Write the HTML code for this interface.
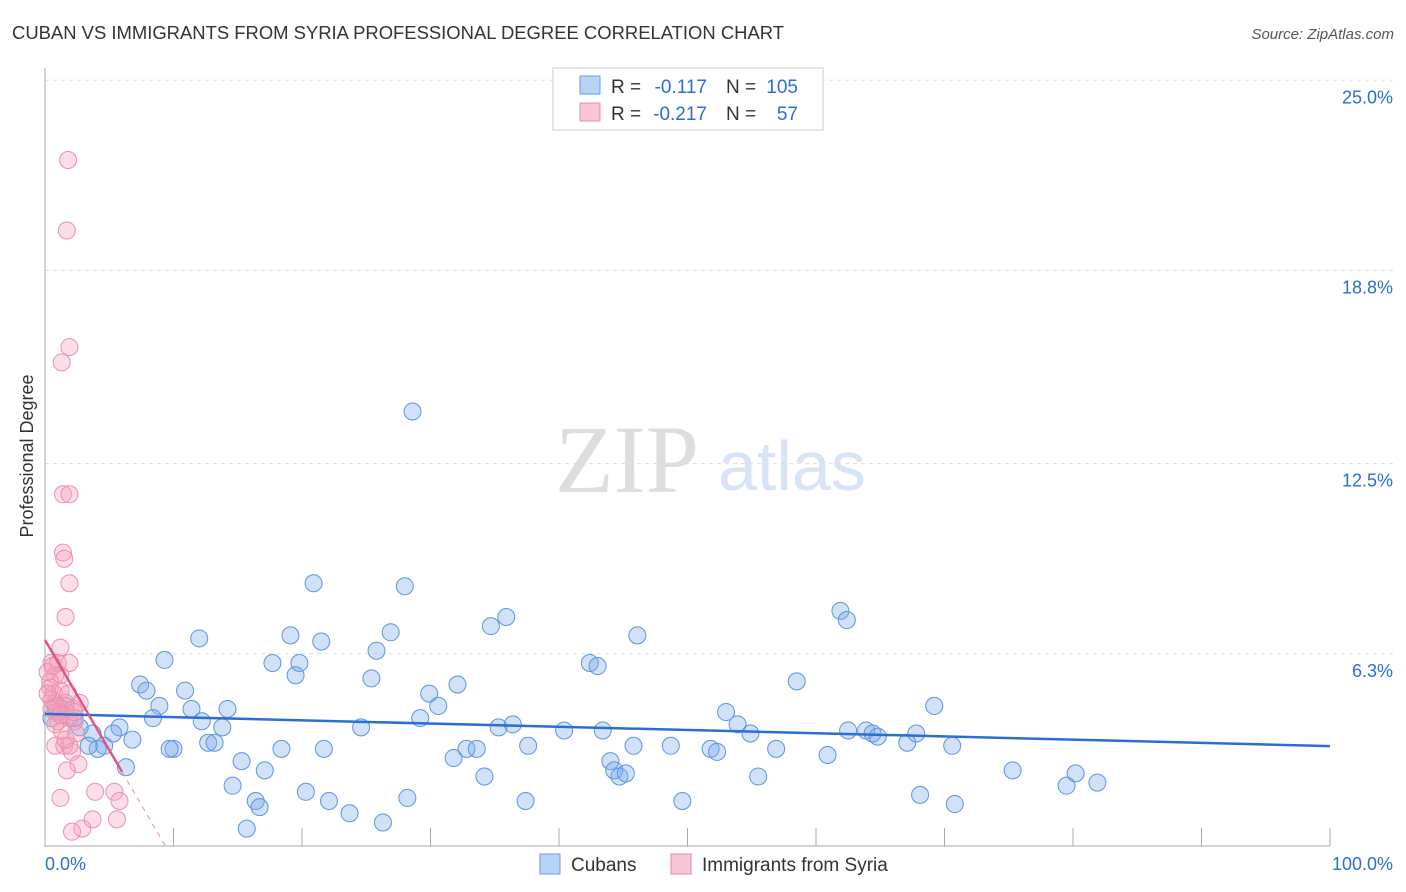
<!DOCTYPE html>
<html><head><meta charset="utf-8"><style>
body{margin:0;background:#fff;font-family:"Liberation Sans",sans-serif}
#wrap{position:relative;width:1406px;height:892px;overflow:hidden}
</style></head><body>
<div id="wrap">
<svg id="svg" width="1406" height="892" xmlns="http://www.w3.org/2000/svg">
<text x="12" y="39" font-size="18" fill="#333" textLength="772" lengthAdjust="spacingAndGlyphs">CUBAN VS IMMIGRANTS FROM SYRIA PROFESSIONAL DEGREE CORRELATION CHART</text>
<text x="1394" y="39" font-size="15" fill="#555" font-style="italic" text-anchor="end">Source: ZipAtlas.com</text>
<text x="33" y="456" font-size="18" fill="#333" text-anchor="middle" transform="rotate(-90 33 456)">Professional Degree</text>
<text x="555" y="492" font-size="96" fill="#ddd" font-family="Liberation Serif,serif">ZIP</text>
<text x="718" y="490" font-size="70" fill="#d6e4f5">atlas</text>
<g id="grid"></g><g id="marks"></g>
<g>
<rect x="553" y="68" width="270" height="62" fill="#fff" stroke="#ccc"/>
<rect x="580" y="76" width="20" height="18" fill="#b8d3f5" stroke="#6a9ee0"/>
<rect x="580" y="103" width="20" height="18" fill="#f9c6d6" stroke="#e58aa8"/>
<text x="611" y="93" font-size="19" fill="#333">R =</text>
<text x="707" y="93" font-size="19" fill="#2a6fd0" text-anchor="end">-0.117</text>
<text x="726" y="93" font-size="19" fill="#333">N =</text>
<text x="798" y="93" font-size="19" fill="#2a6fd0" text-anchor="end">105</text>
<text x="611" y="120" font-size="19" fill="#333">R =</text>
<text x="707" y="120" font-size="19" fill="#2a6fd0" text-anchor="end">-0.217</text>
<text x="726" y="120" font-size="19" fill="#333">N =</text>
<text x="798" y="120" font-size="19" fill="#2a6fd0" text-anchor="end">57</text>
</g>
<g>
<rect x="540" y="854" width="20" height="20" fill="#b8d3f5" stroke="#6a9ee0"/>
<text x="571" y="871" font-size="19" fill="#333">Cubans</text>
<rect x="671" y="854" width="20" height="20" fill="#f9c6d6" stroke="#e58aa8"/>
<text x="702" y="871" font-size="19" fill="#333">Immigrants from Syria</text>
</g>
</svg></div>
<script>
const yTicks=[25.0,18.8,12.5,6.3];
const yTickLabels=["25.0%","18.8%","12.5%","6.3%"];
const xTickLabels=["0.0%","100.0%"];
const cubanX=[28.6,20.9,28.0,12.0,19.1,21.5,26.9,25.8,34.7,35.9,46.1,61.9,62.4,9.3,17.7,19.8,42.4,43.0,7.4,7.9,10.9,19.5,25.4,32.1,29.9,30.6,58.5,8.9,11.4,14.2,8.4,12.2,13.8,29.2,24.6,53.0,69.2,5.8,5.3,3.7,2.7,2.3,6.8,4.6,4.1,10.0,9.7,12.7,13.2,18.4,21.7,32.8,33.6,35.3,36.4,37.6,40.4,43.4,45.8,48.7,51.8,52.3,53.9,54.9,56.9,62.5,63.9,64.4,64.8,67.1,67.8,70.6,60.9,31.8,15.3,17.1,6.3,44.0,44.3,44.7,45.2,34.2,55.5,14.6,20.3,16.4,16.7,22.1,23.7,28.2,37.4,49.6,68.1,70.8,75.3,79.5,80.2,81.9,15.7,26.3,0.5,1.2,1.6,3.4,0.8];
const cubanY=[14.2,8.6,8.5,6.8,6.9,6.7,7.0,6.4,7.2,7.5,6.9,7.7,7.4,6.1,6.0,6.0,6.0,5.9,5.3,5.1,5.1,5.6,5.5,5.3,5.0,4.6,5.4,4.6,4.5,4.5,4.2,4.1,3.9,4.2,3.9,4.4,4.6,3.9,3.7,3.7,3.9,4.2,3.5,3.3,3.2,3.2,3.2,3.4,3.4,3.2,3.2,3.2,3.2,3.9,4.0,3.3,3.8,3.8,3.3,3.3,3.2,3.1,4.0,3.7,3.2,3.8,3.8,3.7,3.6,3.4,3.7,3.3,3.0,2.9,2.8,2.5,2.6,2.8,2.5,2.3,2.4,2.3,2.3,2.0,1.8,1.5,1.3,1.5,1.1,1.6,1.5,1.5,1.7,1.4,2.5,2.0,2.4,2.1,0.6,0.8,4.2,4.4,4.6,3.3,4.6];
const syriaX=[1.8,1.7,1.9,1.3,1.4,1.9,1.4,1.5,1.9,1.6,1.2,0.5,1.0,1.9,0.8,1.2,0.4,0.7,1.2,0.5,0.8,1.0,1.3,1.6,2.7,2.2,0.9,1.5,1.9,1.0,2.3,1.3,2.4,0.8,1.5,2.1,2.6,1.7,3.9,5.4,5.8,1.2,3.7,2.9,5.6,2.1,0.4,0.2,0.5,0.8,1.9,1.6,1.2,0.2,0.6,2.3,1.8];
const syriaY=[22.4,20.1,16.3,15.8,11.5,11.5,9.6,9.4,8.6,7.5,6.5,6.0,6.0,6.0,5.6,5.6,5.2,5.0,5.1,4.8,4.7,4.6,4.5,4.7,4.7,4.5,4.4,4.3,4.2,4.1,4.1,3.8,3.7,3.3,3.3,3.1,2.7,2.5,1.8,1.8,1.5,1.6,0.9,0.6,0.9,0.5,5.4,5.0,4.5,4.0,3.3,3.5,4.3,5.7,5.9,4.4,5.0];
const cubanTrend=[4.34,3.29];
const syriaTrend=[6.75,-0.717];
const X0=45,X1=1330,Y0=847,PPY=30.67;
const sx=v=>X0+(X1-X0)*v/100, sy=v=>Y0-v*PPY;
const NS="http://www.w3.org/2000/svg";
function mk(tag,attrs,parent){const e=document.createElementNS(NS,tag);for(const k in attrs)e.setAttribute(k,attrs[k]);parent.appendChild(e);return e;}
const grid=document.getElementById('grid'),marks=document.getElementById('marks');
yTicks.forEach((t,i)=>{
 const l=mk('line',{x1:45,x2:1393,y1:sy(t),y2:sy(t),stroke:'#ddd','stroke-dasharray':'4,4'},grid);
 
 
 const tx=mk('text',{x:1393,y:sy(t)+23,'font-size':18,fill:'#2a6fd0','text-anchor':'end'},grid);
 tx.textContent=yTickLabels[i];
 
 
});
const ax=mk('line',{x1:45,x2:45,y1:68,y2:847,stroke:'#aaa'},grid);


const bx=mk('line',{x1:45,x2:1330,y1:846,y2:846,stroke:'#aaa'},grid);


for(let i=1;i<=10;i++){
 const t=mk('line',{x1:sx(i*10),x2:sx(i*10),y1:828,y2:846,stroke:'#aaa'},grid);
 
 
}
[[0,'start',45],[100,'end',1393]].forEach((d,i)=>{
 const tx=mk('text',{x:d[2],y:870,'font-size':18,fill:'#2a6fd0','text-anchor':d[1]},grid);
 tx.textContent=xTickLabels[i];
 
 
});
cubanX.forEach((x,i)=>{
 const c=mk('circle',{cx:sx(x),cy:sy(cubanY[i]),r:8.5,fill:'rgba(120,170,235,0.35)',stroke:'#5b95e0','stroke-width':1},marks);
 
 
});
syriaX.forEach((x,i)=>{
 const c=mk('circle',{cx:sx(x),cy:sy(syriaY[i]),r:8.5,fill:'rgba(245,160,185,0.35)',stroke:'#ec8fae','stroke-width':1},marks);
 
 
});
const bl=mk('line',{x1:sx(0),y1:sy(cubanTrend[0]),x2:sx(100),y2:sy(cubanTrend[1]),stroke:'#2a6fd0','stroke-width':2.5},marks);


const xs=6, xe=-syriaTrend[0]/syriaTrend[1];
const pl=mk('line',{x1:sx(0),y1:sy(syriaTrend[0]),x2:sx(xs),y2:sy(syriaTrend[0]+syriaTrend[1]*xs),stroke:'#e05582','stroke-width':2.5},marks);


const pd=mk('line',{x1:sx(xs),y1:sy(syriaTrend[0]+syriaTrend[1]*xs),x2:sx(xe),y2:sy(0),stroke:'#e8889f','stroke-width':1,'stroke-dasharray':'5,5'},marks);


</script>
</body></html>
